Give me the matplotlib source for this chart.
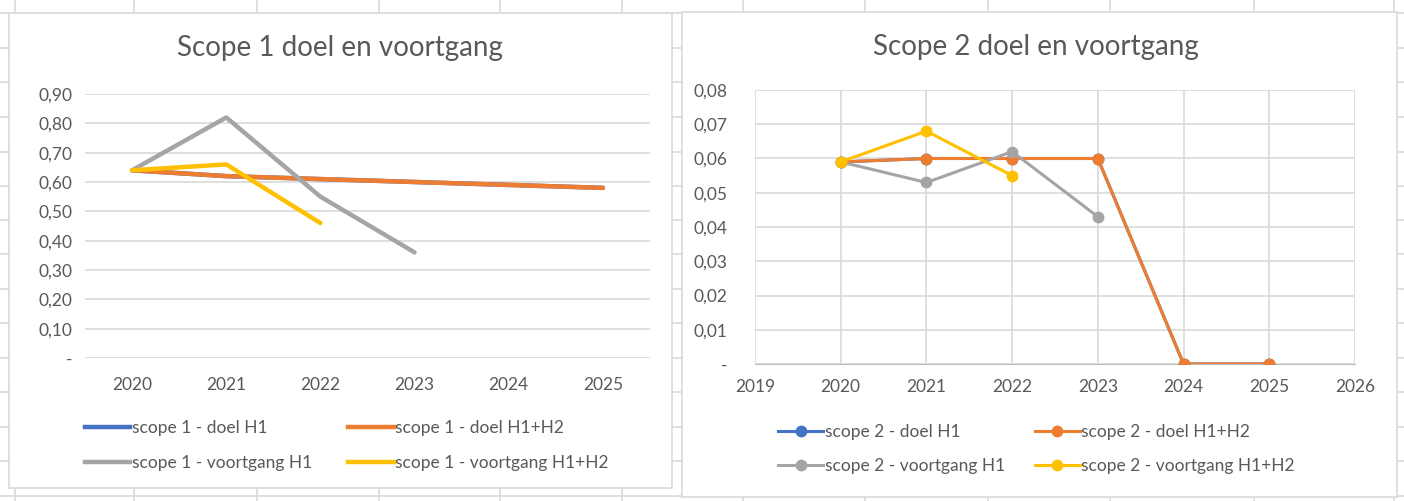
import matplotlib
matplotlib.use("Agg")
import matplotlib.pyplot as plt
from matplotlib.patches import Rectangle
from matplotlib.ticker import FuncFormatter, MultipleLocator
from matplotlib.lines import Line2D

plt.rcParams['font.family'] = ['Lato', 'DejaVu Sans']

# scope 1 - category axis
years1 = ['2020', '2021', '2022', '2023', '2024', '2025']
s1_doel_h1 = [0.64, 0.62, 0.61, 0.60, 0.59, 0.58]
s1_doel_h1h2 = [0.64, 0.62, 0.61, 0.60, 0.59, 0.58]
s1_voortgang_h1 = [0.64, 0.82, 0.55, 0.36]
s1_voortgang_h1h2 = [0.64, 0.66, 0.46]

# scope 2 - numeric x axis
years2 = [2020, 2021, 2022, 2023, 2024, 2025]
s2_doel_h1 = [0.059, 0.060, 0.060, 0.060, 0.0, 0.0]
s2_doel_h1h2 = [0.059, 0.060, 0.060, 0.060, 0.0, 0.0]
s2_voortgang_h1 = [0.059, 0.053, 0.062, 0.043]
s2_voortgang_h1h2 = [0.059, 0.068, 0.055]

BLUE = '#4472C4'
ORANGE = '#ED7D31'
GRAY = '#A5A5A5'
YELLOW = '#FFC000'
GRID = '#D9D9D9'
TEXT = '#595959'
FS = 12.5

W, H = 1404, 501
fig = plt.figure(figsize=(W / 100, H / 100), dpi=100)

# spreadsheet background
bg = fig.add_axes([0, 0, 1, 1])
bg.set_xlim(0, W)
bg.set_ylim(H, 0)
bg.axis('off')
for x in [15, 134, 257, 379, 500, 622, 743, 865, 988, 1110, 1254, 1394]:
    bg.axvline(x, color=GRID, lw=1.2, zorder=1)
for y in [13, 48, 82, 117, 152, 186, 220, 254, 289, 323, 358, 392, 427, 461, 496]:
    bg.axhline(y, color=GRID, lw=1.2, zorder=1)
bg.add_patch(Rectangle((9, 13), 663, 475, facecolor='white', edgecolor=GRID,
                       lw=1.2, zorder=5))
bg.add_patch(Rectangle((682, 12), 715, 485, facecolor='white', edgecolor=GRID,
                       lw=1.2, zorder=5))


def px_axes(x0, y0, x1, y1):
    return fig.add_axes([x0 / W, 1 - y1 / H, (x1 - x0) / W, (y1 - y0) / H])


def fmt(v, pos):
    if abs(v) < 1e-9:
        return '-'
    return f'{v:.2f}'.replace('.', ',')


# ---- Scope 1 ----
ax1 = px_axes(85, 94, 650, 358)
ax1.set_facecolor('none')
xs = list(range(len(years1)))
lw1 = 3.2
ax1.plot(xs, s1_doel_h1, color=BLUE, lw=lw1, solid_capstyle='round', zorder=3)
ax1.plot(xs, s1_doel_h1h2, color=ORANGE, lw=lw1, solid_capstyle='round', zorder=4)
ax1.plot(xs[:len(s1_voortgang_h1)], s1_voortgang_h1, color=GRAY, lw=lw1,
         solid_capstyle='round', zorder=5)
ax1.plot(xs[:len(s1_voortgang_h1h2)], s1_voortgang_h1h2, color=YELLOW, lw=lw1,
         solid_capstyle='round', zorder=6)
ax1.set_xlim(-0.5, len(years1) - 0.5)
ax1.set_ylim(0, 0.9)
ax1.yaxis.set_major_locator(MultipleLocator(0.1))
ax1.yaxis.set_major_formatter(FuncFormatter(fmt))
ax1.set_xticks(xs)
ax1.set_xticklabels(years1)
ax1.grid(axis='y', color=GRID, lw=1.2)
ax1.set_axisbelow(True)
for s in ax1.spines.values():
    s.set_visible(False)
ax1.tick_params(length=0, labelsize=FS, labelcolor=TEXT)
ax1.tick_params(axis='y', pad=9)
ax1.tick_params(axis='x', pad=14)
fig.text(340 / W, 1 - 48 / H, 'Scope 1 doel en voortgang', ha='center', va='center',
         fontsize=20, color=TEXT)

h1 = [Line2D([], [], color=c, lw=lw1) for c in [BLUE, GRAY, ORANGE, YELLOW]]
l1 = ['scope 1 - doel H1', 'scope 1 - voortgang H1',
      'scope 1 - doel H1+H2', 'scope 1 - voortgang H1+H2']
fig.legend(h1, l1, ncol=2, loc='upper left', bbox_to_anchor=(85 / W, 1 - 420 / H),
           frameon=False, fontsize=FS, labelcolor=TEXT, handlelength=2.6,
           handletextpad=0.1, columnspacing=2.1, labelspacing=1.1, borderpad=0,
           borderaxespad=0)

# ---- Scope 2 ----
ax2 = px_axes(755, 90, 1355, 364)
ax2.set_facecolor('none')
lw2 = 2.2
ms = 7.5
ax2.plot(years2, s2_doel_h1, color=BLUE, lw=lw2, marker='o', ms=ms, zorder=3)
ax2.plot(years2, s2_doel_h1h2, color=ORANGE, lw=lw2, marker='o', ms=ms, zorder=4)
ax2.plot(years2[:len(s2_voortgang_h1)], s2_voortgang_h1, color=GRAY, lw=lw2,
         marker='o', ms=ms, zorder=5)
ax2.plot(years2[:len(s2_voortgang_h1h2)], s2_voortgang_h1h2, color=YELLOW, lw=lw2,
         marker='o', ms=ms, zorder=6)
ax2.set_xlim(2019, 2026)
ax2.set_ylim(0, 0.08)
ax2.xaxis.set_major_locator(MultipleLocator(1))
ax2.yaxis.set_major_locator(MultipleLocator(0.01))
ax2.yaxis.set_major_formatter(FuncFormatter(fmt))
ax2.grid(True, color=GRID, lw=1.2)
ax2.set_axisbelow(True)
for s in ax2.spines.values():
    s.set_visible(False)
ax2.spines['bottom'].set_visible(True)
ax2.spines['bottom'].set_color('#BFBFBF')
ax2.tick_params(length=0, labelsize=FS, labelcolor=TEXT)
ax2.tick_params(axis='y', pad=20)
ax2.tick_params(axis='x', pad=11)
fig.text(1036 / W, 1 - 47 / H, 'Scope 2 doel en voortgang', ha='center', va='center',
         fontsize=20, color=TEXT)

h2 = [Line2D([], [], color=c, lw=lw2, marker='o', ms=ms) for c in [BLUE, GRAY, ORANGE, YELLOW]]
l2 = ['scope 2 - doel H1', 'scope 2 - voortgang H1',
      'scope 2 - doel H1+H2', 'scope 2 - voortgang H1+H2']
fig.legend(h2, l2, ncol=2, loc='upper left', bbox_to_anchor=(778 / W, 1 - 424 / H),
           frameon=False, fontsize=FS, labelcolor=TEXT, handlelength=2.6,
           handletextpad=0.1, columnspacing=1.7, labelspacing=1.05, borderpad=0,
           borderaxespad=0)

fig.savefig('out.png', dpi=100)
